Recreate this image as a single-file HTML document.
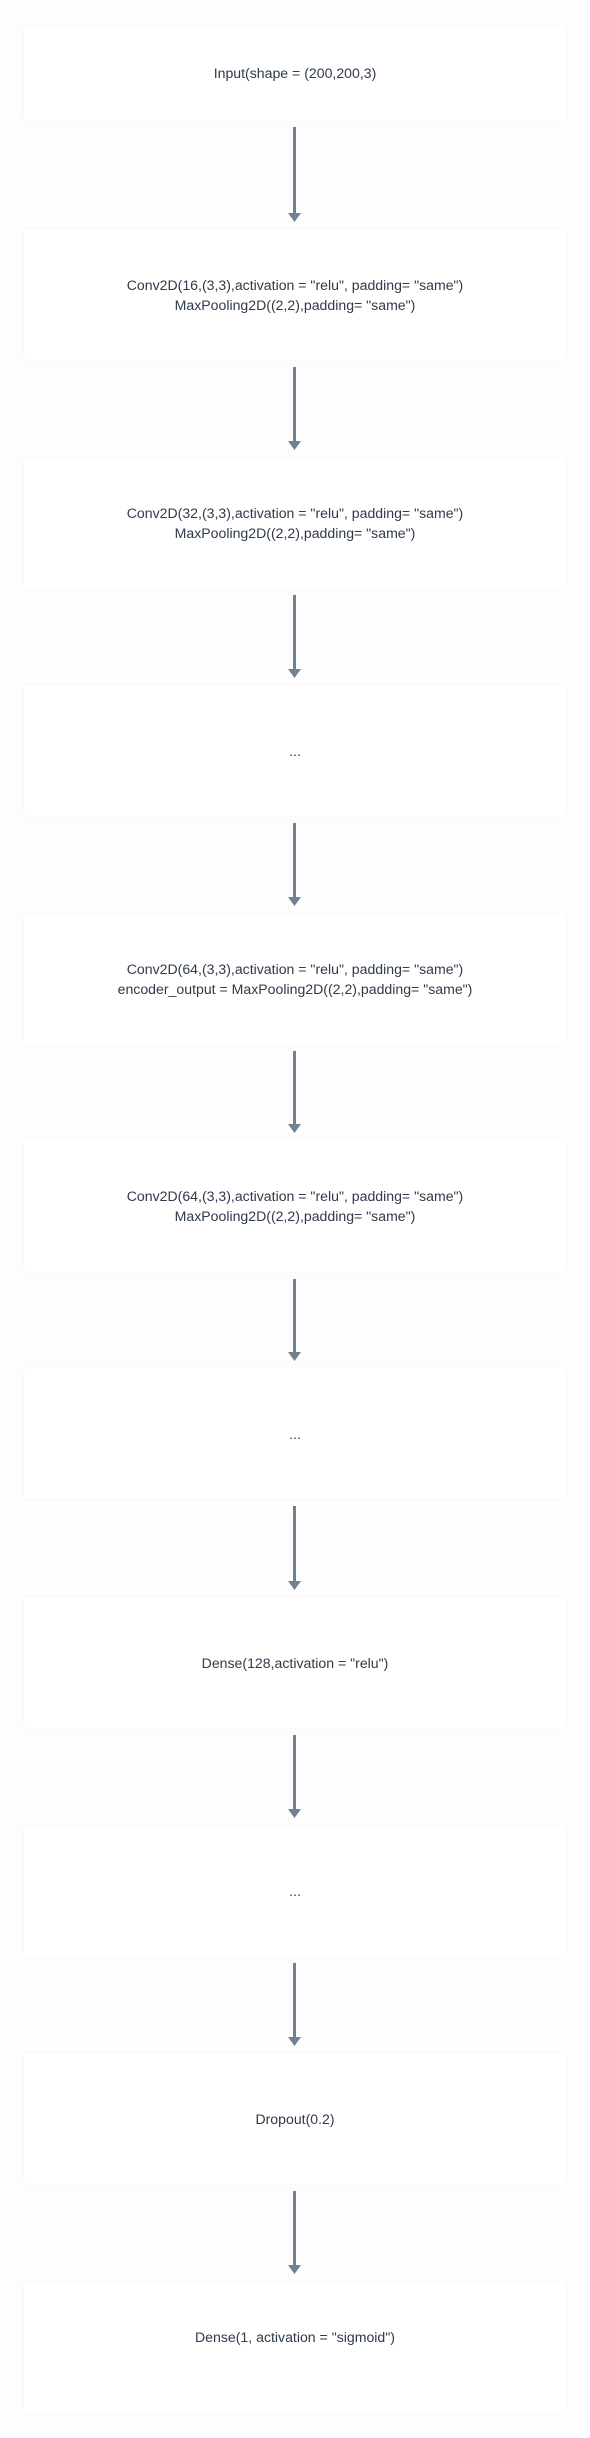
<!DOCTYPE html>
<html><head><meta charset="utf-8"><style>
html,body{margin:0;padding:0}
body{width:590px;height:2438px;background:#fdfdfd;position:relative;overflow:hidden;font-family:"Liberation Sans",sans-serif}
.b{position:absolute;left:24px;width:542px;background:#fff;border-radius:3px;box-shadow:0 0 2px rgba(0,0,0,0.05);display:flex;align-items:center;justify-content:center;box-sizing:border-box}
.t{color:#2f3a4a;font-size:14.1px;line-height:20px;text-align:center;white-space:nowrap}
svg{position:absolute;left:0;top:0}
</style></head><body>
<div class="b" style="top:25px;height:96px"><div class="t">Input(shape = (200,200,3)</div></div>
<div class="b" style="top:229px;height:131px"><div class="t">Conv2D(16,(3,3),activation = "relu", padding= "same")<br>MaxPooling2D((2,2),padding= "same")</div></div>
<div class="b" style="top:457px;height:131px"><div class="t">Conv2D(32,(3,3),activation = "relu", padding= "same")<br>MaxPooling2D((2,2),padding= "same")</div></div>
<div class="b" style="top:685px;height:131px"><div class="t">...</div></div>
<div class="b" style="top:913px;height:131px"><div class="t">Conv2D(64,(3,3),activation = "relu", padding= "same")<br>encoder_output = MaxPooling2D((2,2),padding= "same")</div></div>
<div class="b" style="top:1140px;height:132px"><div class="t">Conv2D(64,(3,3),activation = "relu", padding= "same")<br>MaxPooling2D((2,2),padding= "same")</div></div>
<div class="b" style="top:1368px;height:131px"><div class="t">...</div></div>
<div class="b" style="top:1597px;height:131px"><div class="t">Dense(128,activation = "relu")</div></div>
<div class="b" style="top:1825px;height:131px"><div class="t">...</div></div>
<div class="b" style="top:2053px;height:131px"><div class="t">Dropout(0.2)</div></div>
<div class="b" style="top:2281px;height:132px;padding-bottom:20px"><div class="t">Dense(1, activation = "sigmoid")</div></div>
<svg width="590" height="2438">
<g fill="#718190" stroke="none">
<rect x="293" y="127" width="3" height="88"/><polygon points="288,213 301,213 294.5,222"/>
<rect x="293" y="367" width="3" height="76"/><polygon points="288,441 301,441 294.5,450"/>
<rect x="293" y="595" width="3" height="76"/><polygon points="288,669 301,669 294.5,678"/>
<rect x="293" y="823" width="3" height="76"/><polygon points="288,897 301,897 294.5,906"/>
<rect x="293" y="1051" width="3" height="75"/><polygon points="288,1124 301,1124 294.5,1133"/>
<rect x="293" y="1279" width="3" height="75"/><polygon points="288,1352 301,1352 294.5,1361"/>
<rect x="293" y="1506" width="3" height="77"/><polygon points="288,1581 301,1581 294.5,1590"/>
<rect x="293" y="1735" width="3" height="76"/><polygon points="288,1809 301,1809 294.5,1818"/>
<rect x="293" y="1963" width="3" height="76"/><polygon points="288,2037 301,2037 294.5,2046"/>
<rect x="293" y="2191" width="3" height="76"/><polygon points="288,2265 301,2265 294.5,2274"/>
</g></svg>
</body></html>
